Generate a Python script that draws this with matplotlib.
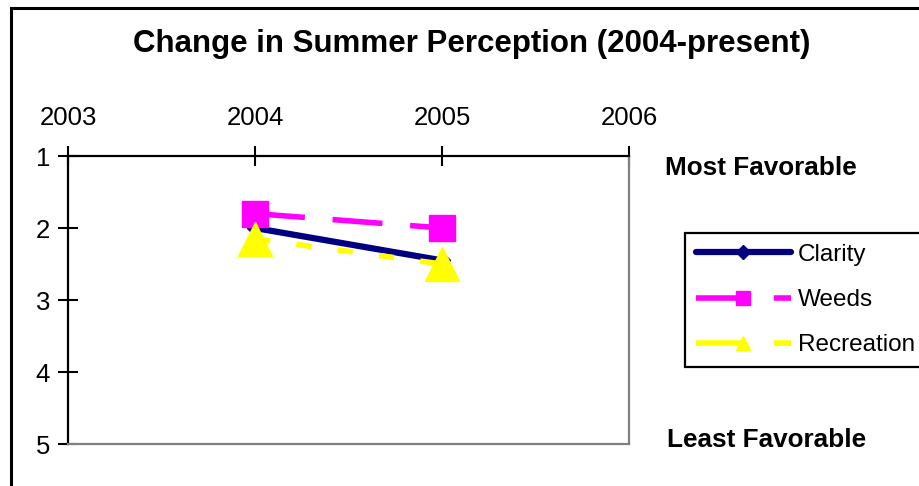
import matplotlib
matplotlib.use("Agg")
from matplotlib import pyplot as plt
from matplotlib.lines import Line2D
from matplotlib.patches import Rectangle

plt.rcParams['font.family'] = ['Liberation Sans', 'DejaVu Sans']
plt.rcParams['lines.scale_dashes'] = False

# survey years and mean ratings (1 = most favorable, 5 = least)
years = [2004, 2005]
clarity = [2.0, 2.45]
weeds = [1.8, 2.0]
recreation = [2.15, 2.5]

series_names = ["Clarity", "Weeds", "Recreation"]
x_ticks = [2003, 2004, 2005, 2006]
y_ticks = [1, 2, 3, 4, 5]

navy = "#000080"
magenta = "#FF00FF"
yellow = "#FFFF00"

fig = plt.figure(figsize=(9.19, 4.86), dpi=100)
ax = fig.add_axes([68/919, 1 - 444/486, (629 - 68)/919, (444 - 156)/486])

ax.plot(years, clarity, color=navy, lw=4.5, marker="D", ms=8,
        mfc=navy, mec=navy, solid_capstyle="butt", zorder=3)
ax.plot(years, weeds, color=magenta, lw=4, dashes=(36, 20), marker="s", ms=19,
        mfc=magenta, mec=magenta, zorder=3)
ax.plot(years, recreation, color=yellow, lw=4, dashes=(11, 19), marker="^", ms=24,
        mfc=yellow, mec=yellow, zorder=4)

ax.set_xlim(2003, 2006)
ax.set_ylim(5, 1)
ax.set_xticks(x_ticks)
ax.set_yticks(y_ticks)
ax.xaxis.tick_top()
ax.tick_params(axis='x', direction='inout', length=14, width=1.5, labelsize=18.5, pad=12)
ax.tick_params(axis='y', direction='inout', length=14, width=1.5, labelsize=18.5, pad=6)

for side in ['top', 'left']:
    ax.spines[side].set_color('black')
    ax.spines[side].set_linewidth(1.6)
for side in ['right', 'bottom']:
    ax.spines[side].set_color('#808080')
    ax.spines[side].set_linewidth(1.6)

fig.text(472/919, 1 - 44/486, "Change in Summer Perception (2004-present)",
         ha='center', va='center', fontsize=22.5, fontweight='bold')
fig.text(665/919, 1 - 168/486, "Most Favorable", ha='left', va='center',
         fontsize=18.8, fontweight='bold')
fig.text(667/919, 1 - 440/486, "Least Favorable", ha='left', va='center',
         fontsize=18.8, fontweight='bold')

handles = [
    Line2D([], [], color=navy, lw=4.5, marker="D", ms=7, solid_capstyle="round"),
    Line2D([], [], color=magenta, lw=4, dashes=(36, 20), marker="s", ms=10),
    Line2D([], [], color=yellow, lw=4, dashes=(36, 20), marker="^", ms=10),
]
leg = fig.legend(handles, series_names, loc='upper left',
                 bbox_to_anchor=(685/919, 1 - 233/486), fontsize=17.5,
                 handlelength=3.9, handletextpad=0.3, labelspacing=0.95,
                 borderpad=0.45, borderaxespad=0, numpoints=1,
                 fancybox=False, shadow=False, framealpha=1)
leg.get_frame().set_edgecolor('black')
leg.get_frame().set_linewidth(1.6)

# chart frame
fig.patches.append(Rectangle((10.5/919, -0.1), 1.2, 1.1 - 8.5/486, fill=False,
                             lw=2.2, edgecolor='black', transform=fig.transFigure))

fig.savefig("out.png", dpi=100)
